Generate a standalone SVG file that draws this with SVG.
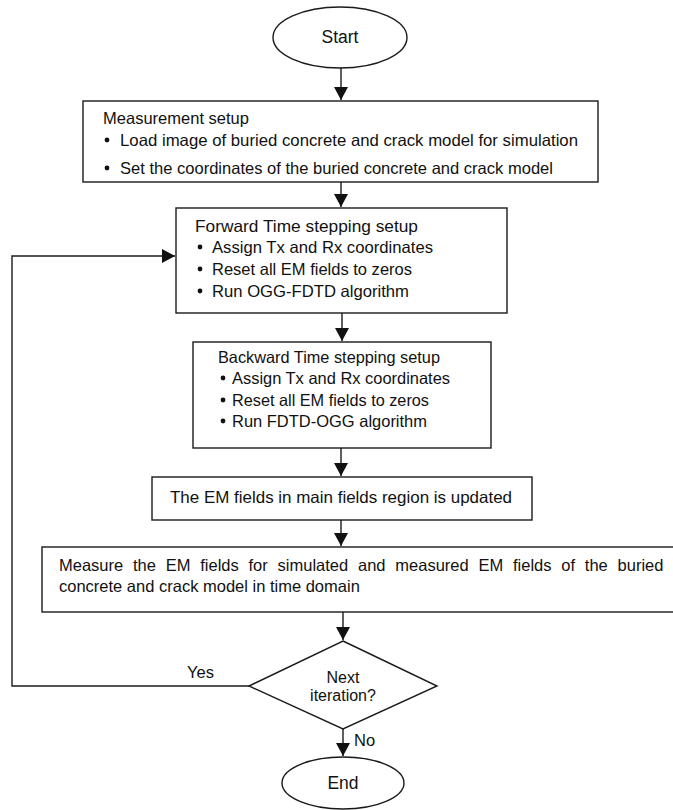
<svg xmlns="http://www.w3.org/2000/svg" width="673" height="810" viewBox="0 0 673 810">
<style>
.s{fill:#fff;stroke:#1a1a1a;stroke-width:1.4}
.t{font-family:"Liberation Sans",Arial,sans-serif;font-size:16.5px;fill:#111}
.c{text-anchor:middle}
.b{fill:#111}
.ln{fill:none;stroke:#1a1a1a;stroke-width:1.4}
</style>
<defs>
<marker id="ah" markerUnits="userSpaceOnUse" markerWidth="14" markerHeight="14" refX="13" refY="7" orient="auto">
<path d="M0,0 L13,7 L0,14 Z" fill="#111"/>
</marker>
</defs>
<rect width="673" height="810" fill="#fff"/>
<g id="connectors">
<line class="ln" x1="341" y1="68" x2="341" y2="100" marker-end="url(#ah)"/>
<line class="ln" x1="341" y1="182" x2="341" y2="207" marker-end="url(#ah)"/>
<line class="ln" x1="342" y1="313" x2="342" y2="341" marker-end="url(#ah)"/>
<line class="ln" x1="341" y1="448" x2="341" y2="476" marker-end="url(#ah)"/>
<line class="ln" x1="341" y1="520" x2="341" y2="546" marker-end="url(#ah)"/>
<line class="ln" x1="343" y1="612" x2="343" y2="640" marker-end="url(#ah)"/>
<line class="ln" x1="343" y1="729" x2="343" y2="756" marker-end="url(#ah)"/>
<polyline class="ln" points="249,686 12,686 12,256 175,256" marker-end="url(#ah)"/>
<text class="t" x="187" y="678">Yes</text>
<text class="t" x="354" y="746">No</text>
</g>
<g id="start">
<ellipse class="s" cx="340" cy="37.5" rx="67" ry="30.5"/>
<text class="t c" x="340" y="43" style="font-size:17.5px">Start</text>
</g>
<g id="measurement-setup">
<rect class="s" x="83" y="101" width="515" height="81"/>
<text class="t" x="103" y="124" textLength="146" lengthAdjust="spacingAndGlyphs">Measurement setup</text>
<circle class="b" cx="107" cy="140" r="2.4"/>
<text class="t" x="120" y="146" textLength="458" lengthAdjust="spacingAndGlyphs">Load image of buried concrete and crack model for simulation</text>
<circle class="b" cx="107" cy="168" r="2.4"/>
<text class="t" x="120" y="174" textLength="433" lengthAdjust="spacingAndGlyphs">Set the coordinates of the buried concrete and crack model</text>
</g>
<g id="forward">
<rect class="s" x="176" y="208" width="331" height="105"/>
<text class="t" x="195" y="232" textLength="223" lengthAdjust="spacingAndGlyphs">Forward Time stepping setup</text>
<circle class="b" cx="200" cy="247" r="2.4"/>
<text class="t" x="212" y="253" textLength="221" lengthAdjust="spacingAndGlyphs">Assign Tx and Rx coordinates</text>
<circle class="b" cx="200" cy="269" r="2.4"/>
<text class="t" x="212" y="275" textLength="200" lengthAdjust="spacingAndGlyphs">Reset all EM fields to zeros</text>
<circle class="b" cx="200" cy="291" r="2.4"/>
<text class="t" x="212" y="297" textLength="197" lengthAdjust="spacingAndGlyphs">Run OGG-FDTD algorithm</text>
</g>
<g id="backward">
<rect class="s" x="193" y="342" width="298" height="106"/>
<text class="t" x="218" y="363" textLength="222" lengthAdjust="spacingAndGlyphs">Backward Time stepping setup</text>
<circle class="b" cx="223" cy="378" r="2.4"/>
<text class="t" x="232" y="384" textLength="218" lengthAdjust="spacingAndGlyphs">Assign Tx and Rx coordinates</text>
<circle class="b" cx="223" cy="400" r="2.4"/>
<text class="t" x="232" y="406" textLength="197" lengthAdjust="spacingAndGlyphs">Reset all EM fields to zeros</text>
<circle class="b" cx="223" cy="421" r="2.4"/>
<text class="t" x="232" y="427" textLength="195" lengthAdjust="spacingAndGlyphs">Run FDTD-OGG algorithm</text>
</g>
<g id="update">
<rect class="s" x="152" y="477" width="380" height="43"/>
<text class="t" x="170" y="503" textLength="342" lengthAdjust="spacingAndGlyphs">The EM fields in main fields region is updated</text>
</g>
<g id="measure">
<rect class="s" x="42" y="547" width="640" height="65"/>
<text class="t" x="59" y="571" word-spacing="5.2">Measure the EM fields for simulated and measured EM fields of the buried</text>
<text class="t" x="59" y="592">concrete and crack model in time domain</text>
</g>
<g id="decision">
<polygon class="s" points="343,641 437,686 343,729 249,686"/>
<text class="t c" x="343" y="683" style="font-size:16px">Next</text>
<text class="t c" x="343" y="701" style="font-size:16px">iteration?</text>
</g>
<g id="end">
<ellipse class="s" cx="343" cy="783" rx="61" ry="26"/>
<text class="t c" x="343" y="789" style="font-size:17.5px">End</text>
</g>
</svg>
